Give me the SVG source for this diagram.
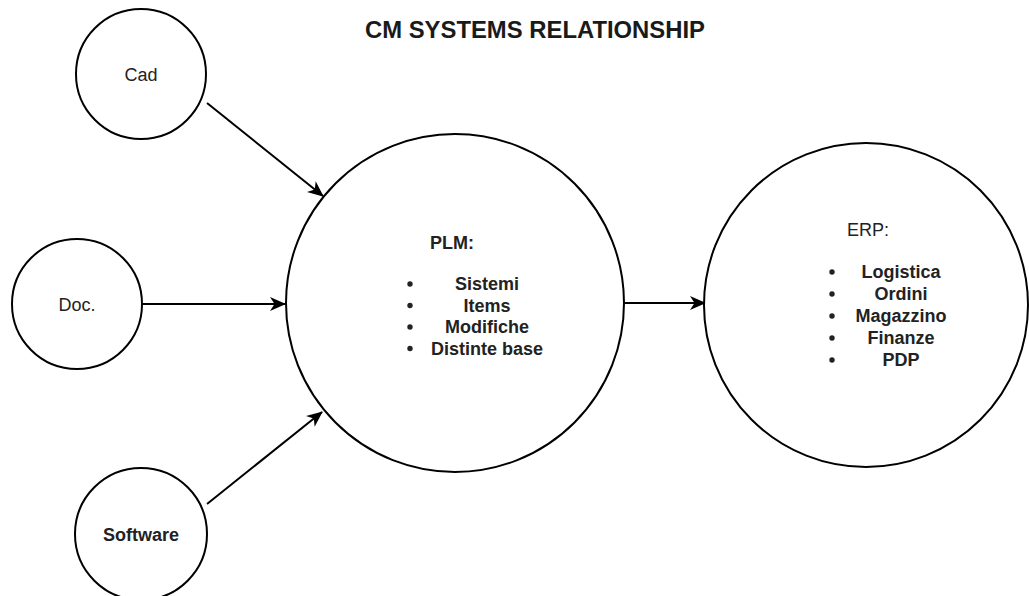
<svg xmlns="http://www.w3.org/2000/svg" width="1029" height="596" viewBox="0 0 1029 596">
  <style>
    .node circle { fill: #ffffff; stroke: #000000; stroke-width: 2; }
    .node circle.dot { fill: #222222; stroke: none; }
    .lbl { font-family: "Liberation Sans", Arial, sans-serif; font-size: 18px; fill: #222222; }
    .b { font-weight: bold; }
    .title { font-family: "Liberation Sans", Arial, sans-serif; font-size: 23px; font-weight: bold; fill: #1a1a1a; }
    .edge { fill: none; stroke: #000000; stroke-width: 2; marker-end: url(#arrow); }
  </style>
  <defs>
    <marker id="arrow" viewBox="0 0 16 14" refX="15" refY="7" markerWidth="16" markerHeight="14" markerUnits="userSpaceOnUse" orient="auto">
      <path d="M0,0 L16,7 L0,14 L4.5,7 Z" fill="#000000"/>
    </marker>
  </defs>
  <rect width="1029" height="596" fill="#ffffff"/>

  <text class="title" x="535" y="38" text-anchor="middle" textLength="340" lengthAdjust="spacingAndGlyphs">CM SYSTEMS RELATIONSHIP</text>

  <g id="connectors">
    <line class="edge" x1="207" y1="103" x2="323" y2="196"/>
    <line class="edge" x1="142" y1="304" x2="285" y2="304"/>
    <line class="edge" x1="207" y1="504" x2="322" y2="412"/>
    <line class="edge" x1="625" y1="303" x2="705" y2="303"/>
  </g>

  <g id="cad" class="node">
    <circle cx="141" cy="74" r="65"/>
    <text class="lbl" x="141" y="81" text-anchor="middle" font-size="19">Cad</text>
  </g>

  <g id="doc" class="node">
    <circle cx="77" cy="304" r="65"/>
    <text class="lbl" x="77" y="311" text-anchor="middle" font-size="19">Doc.</text>
  </g>

  <g id="software" class="node">
    <circle cx="141" cy="534" r="66"/>
    <text class="lbl b" x="141" y="541" text-anchor="middle">Software</text>
  </g>

  <g id="plm" class="node">
    <circle cx="455" cy="303" r="169"/>
    <text class="lbl b" x="430" y="249">PLM:</text>
    <circle class="dot" cx="410" cy="284" r="2.7"/>
    <circle class="dot" cx="410" cy="305.5" r="2.7"/>
    <circle class="dot" cx="410" cy="327" r="2.7"/>
    <circle class="dot" cx="410" cy="348.5" r="2.7"/>
    <text class="lbl b" x="487" y="290" text-anchor="middle">Sistemi</text>
    <text class="lbl b" x="487" y="311.5" text-anchor="middle">Items</text>
    <text class="lbl b" x="487" y="333" text-anchor="middle">Modifiche</text>
    <text class="lbl b" x="487" y="354.5" text-anchor="middle">Distinte base</text>
  </g>

  <g id="erp" class="node">
    <circle cx="866" cy="305" r="162"/>
    <text class="lbl" x="847" y="236">ERP:</text>
    <circle class="dot" cx="832" cy="272" r="2.7"/>
    <circle class="dot" cx="832" cy="294" r="2.7"/>
    <circle class="dot" cx="832" cy="316" r="2.7"/>
    <circle class="dot" cx="832" cy="338" r="2.7"/>
    <circle class="dot" cx="832" cy="360" r="2.7"/>
    <text class="lbl b" x="901" y="278" text-anchor="middle">Logistica</text>
    <text class="lbl b" x="901" y="300" text-anchor="middle">Ordini</text>
    <text class="lbl b" x="901" y="322" text-anchor="middle">Magazzino</text>
    <text class="lbl b" x="901" y="344" text-anchor="middle">Finanze</text>
    <text class="lbl b" x="901" y="366" text-anchor="middle">PDP</text>
  </g>
</svg>
